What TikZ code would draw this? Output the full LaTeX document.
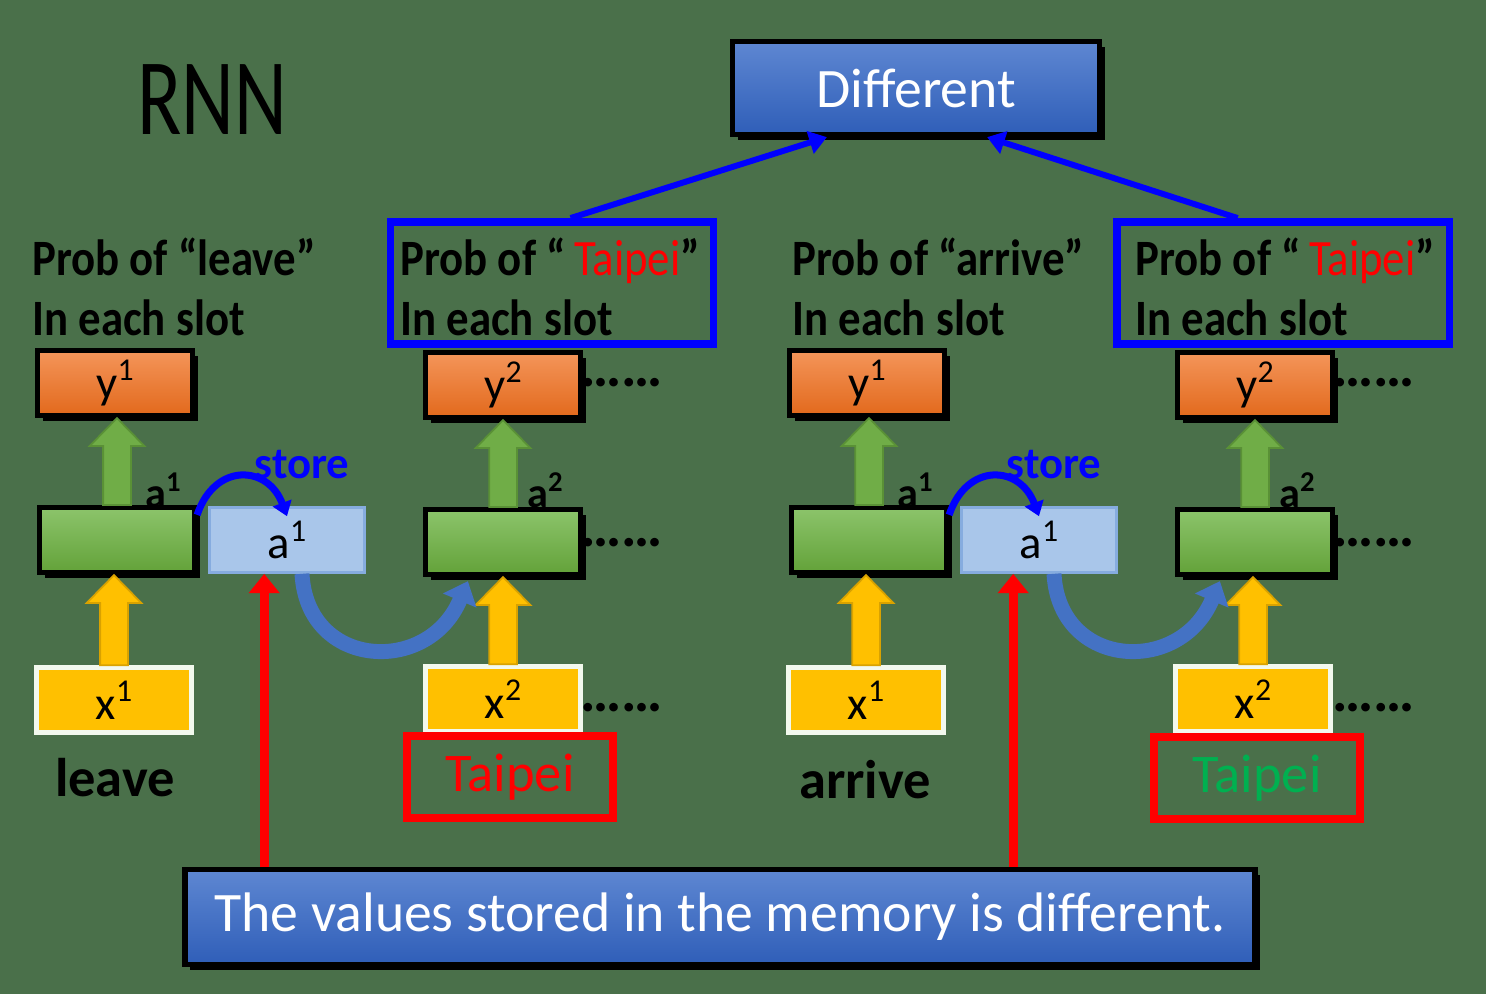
\documentclass[tikz,border=0pt]{standalone}
\usepackage{fontspec}
\setmainfont{Carlito}
\newfontfamily\condfont[FakeStretch=0.88]{Carlito}
\usetikzlibrary{arrows.meta,calc,shadows}
\definecolor{bg}{HTML}{4A704A}
\definecolor{orT}{HTML}{F4955A}
\definecolor{orB}{HTML}{E2691C}
\definecolor{grT}{HTML}{8CC46B}
\definecolor{grB}{HTML}{63A239}
\definecolor{bnT}{HTML}{5E87D2}
\definecolor{bnB}{HTML}{2F5EB8}
\definecolor{memfill}{HTML}{A9C6EA}
\definecolor{memdraw}{HTML}{86ACDF}
\definecolor{yel}{HTML}{FFC000}
\definecolor{xborder}{HTML}{F3F9EE}
\definecolor{garr}{HTML}{70AD47}
\definecolor{garrD}{HTML}{5A9136}
\definecolor{yarrD}{HTML}{D9A200}
\definecolor{curv}{HTML}{4472C4}
\definecolor{pureblue}{HTML}{0000FF}
\definecolor{tgreen}{HTML}{00B050}
\newcommand\upidx[1]{\raisebox{0.38em}{\scalebox{0.68}{#1}}}
\tikzset{
  box/.style={minimum width=3.1cm, minimum height=1.3cm, inner sep=0pt,
    font=\fontsize{26.6}{30}\selectfont},
  blackframe/.style={draw=black, line width=3pt,
    drop shadow={shadow xshift=3pt, shadow yshift=-3pt, opacity=1, fill=black}},
  ybox/.style={box, blackframe, top color=orT, bottom color=orB},
  hbox/.style={box, blackframe, top color=grT, bottom color=grB},
  membox/.style={box, fill=memfill, draw=memdraw, line width=1.5pt},
  xbox/.style={box, fill=yel, draw=xborder, line width=2.5pt},
  banner/.style={blackframe, top color=bnT, bottom color=bnB, text=white,
    inner sep=0pt, font=\fontsize{31.7}{36}\selectfont},
  probtxt/.style={anchor=west, align=left, inner sep=0pt,
    font=\condfont\bfseries\fontsize{29}{34}\selectfont},
  bluebox/.style={draw=pureblue, line width=4.5pt, inner sep=0pt},
  redbox/.style={draw=red, line width=4.5pt, inner sep=0pt,
    font=\fontsize{31}{36}\selectfont},
  dots/.style={font=\bfseries\fontsize{33}{33}\selectfont, inner sep=0pt},
  wordtxt/.style={font=\bfseries\fontsize{31}{36}\selectfont, inner sep=0pt},
  alabel/.style={font=\bfseries\fontsize{24}{28}\selectfont, inner sep=0pt},
  storetxt/.style={text=pureblue, font=\bfseries\fontsize{25.5}{28}\selectfont, inner sep=0pt},
  blockup/.style={to path={let \p1=(\tikztostart), \p2=(\tikztotarget) in
    (\x1-7.9pt,\y1) -- (\x1-7.9pt,\y2-15.9pt) -- (\x1-15.6pt,\y2-15.9pt) -- (\x1,\y2)
    -- (\x1+15.6pt,\y2-15.9pt) -- (\x1+7.9pt,\y2-15.9pt) -- (\x1+7.9pt,\y1) -- cycle}},
  garrow/.style={blockup, fill=garr, draw=garrD, line width=1pt},
  yarrow/.style={blockup, fill=yel, draw=yarrD, line width=1pt},
  redarr/.style={draw=red, line width=5pt, -{Triangle[width=17pt,length=11pt]}},
  bluearr/.style={draw=pureblue, line width=3.4pt, -{Triangle[width=13pt,length=10pt]}},
  storearr/.style={draw=pureblue, line width=4pt, -{Triangle[width=11pt,length=8pt]}},
  curvearr/.style={draw=curv, line width=8.5pt, -{Triangle[width=20pt,length=12pt]}},
}
\begin{document}
\begin{tikzpicture}[x=0.02cm,y=-0.02cm]
\fill[bg] (0,0) rectangle (1486,994);
\useasboundingbox (0,0) rectangle (1486,994);

% title and result boxes
\node (rnn) at (212,100) {\fontsize{62}{62}\selectfont\scalebox{0.75}[1]{RNN}};
\node[banner, minimum width=7.34cm, minimum height=1.86cm] (diff) at (916,88) {Different};
\node[banner, minimum width=21.4cm, minimum height=1.9cm] (bottom) at (720,917)
  {The values stored in the memory is different.};

% ---------------- left half ----------------
\node[probtxt] (probL1) at (32,287) {Prob of “leave”\\In each slot};
\node[ybox] (y1L) at (115,383) {y\upidx{1}};
\node[hbox] (h1L) at (117,540) {};
\node[membox] (m1L) at (287,540) {a\upidx{1}};
\node[xbox] (x1L) at (114,700) {x\upidx{1}};
\node[wordtxt] (leave) at (115,778) {leave};
\node[alabel] (a1L) at (163,490) {a\upidx{1}};
\node[storetxt] (storeL) at (302,465) {store};

\node[bluebox, minimum width=6.46cm, minimum height=2.44cm] (pL) at (552,283) {};
\node[probtxt] (probL2) at (400,287) {Prob of “\,\textcolor{red}{\mdseries Taipei}”\\In each slot};
\node[ybox] (y2L) at (503,385) {y\upidx{2}};
\node[hbox] (h2L) at (503,542) {};
\node[xbox] (x2L) at (503,699) {x\upidx{2}};
\node[alabel] (a2L) at (545,490) {a\upidx{2}};
\node[redbox, minimum width=4.12cm, minimum height=1.64cm, text=red] (tL) at (510,777) {Taipei};
\node[dots] (d1L) at (622,383) {……};
\node[dots] (d2L) at (622,543) {……};
\node[dots] (d3L) at (622,708) {……};

\draw[garrow] (h1L.north) to (y1L.south);
\draw[yarrow] (x1L.north) to (h1L.south);
\draw[garrow] (h2L.north) to (y2L.south);
\draw[yarrow] (x2L.north) to (h2L.south);
\draw[storearr] ($(h1L.north east)+(0,10)$) .. controls (215,462) and (268,465) .. ($(m1L.north)+(0,10)$);
\draw[curvearr] ($(m1L.south)+(15,0)$) .. controls +(5,95) and +(-40,95) .. ($(h2L.south west)+(45,4)$);
\coordinate (rL) at ($(m1L.south west)+(56,0)$);
\draw[redarr] (bottom.north -| rL) -- (rL);

% ---------------- right half ----------------
\node[probtxt] (probR1) at (792,287) {Prob of “arrive”\\In each slot};
\node[ybox] (y1R) at (867,383) {y\upidx{1}};
\node[hbox] (h1R) at (869,540) {};
\node[membox] (m1R) at (1039,540) {a\upidx{1}};
\node[xbox] (x1R) at (866,700) {x\upidx{1}};
\node[wordtxt] (arrive) at (865,780) {arrive};
\node[alabel] (a1R) at (915,490) {a\upidx{1}};
\node[storetxt] (storeR) at (1054,465) {store};

\node[bluebox, minimum width=6.66cm, minimum height=2.44cm] (pR) at (1283,283) {};
\node[probtxt] (probR2) at (1135,287) {Prob of “\,\textcolor{red}{\mdseries Taipei}”\\In each slot};
\node[ybox] (y2R) at (1255,385) {y\upidx{2}};
\node[hbox] (h2R) at (1255,542) {};
\node[xbox] (x2R) at (1253,699) {x\upidx{2}};
\node[alabel] (a2R) at (1297,490) {a\upidx{2}};
\node[redbox, minimum width=4.12cm, minimum height=1.64cm, text=tgreen] (tR) at (1257,778) {Taipei};
\node[dots] (d1R) at (1374,383) {……};
\node[dots] (d2R) at (1374,543) {……};
\node[dots] (d3R) at (1374,708) {……};

\draw[garrow] (h1R.north) to (y1R.south);
\draw[yarrow] (x1R.north) to (h1R.south);
\draw[garrow] (h2R.north) to (y2R.south);
\draw[yarrow] (x2R.north) to (h2R.south);
\draw[storearr] ($(h1R.north east)+(0,10)$) .. controls (967,462) and (1020,465) .. ($(m1R.north)+(0,10)$);
\draw[curvearr] ($(m1R.south)+(15,0)$) .. controls +(5,95) and +(-40,95) .. ($(h2R.south west)+(45,4)$);
\coordinate (rR) at ($(m1R.south west)+(53,0)$);
\draw[redarr] (bottom.north -| rR) -- (rR);

% ---------------- to "Different" ----------------
\draw[bluearr] ($(pL.north west)+(184,0)$) -- ($(diff.south west)+(97,0)$);
\draw[bluearr] ($(pR.north west)+(125,0)$) -- ($(diff.south east)+(-115,0)$);
\end{tikzpicture}
\end{document}
